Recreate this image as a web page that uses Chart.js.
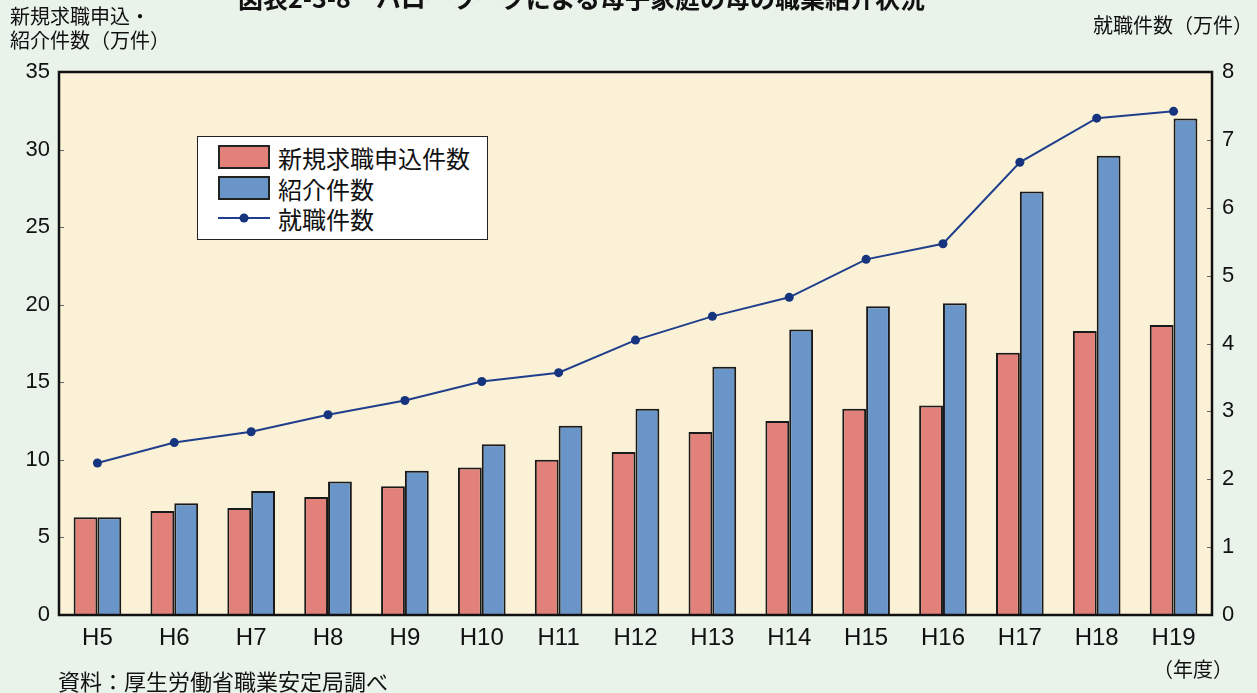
<!DOCTYPE html>
<html lang="ja">
<head>
<meta charset="UTF-8">
<title>ハローワークによる母子家庭の母の職業紹介状況</title>
<script src="https://cdn.jsdelivr.net/npm/chart.js"></script>
<style>
  html, body { margin: 0; padding: 0; background: #e9f3ea; }
  body { width: 1257px; height: 693px; position: relative; overflow: hidden;
         font-family: "Noto Sans CJK JP", sans-serif; color: #111; }
  #wrap { position: absolute; left: 0; top: 0; width: 1257px; height: 693px; }
  .txt { position: absolute; white-space: nowrap; }
  #legend { position: absolute; left: 197px; top: 136px; width: 289px; height: 102px;
            background: #fff; border: 1.5px solid #222; font-size: 24px; }
  .row { position: absolute; left: 20px; height: 30px; display: flex; align-items: center; }
  .sw { width: 48px; height: 20px; border: 2px solid #222; margin-right: 8px; }
</style>
</head>
<body>
<div id="wrap"><canvas id="chart" width="1257" height="693"></canvas></div>

<div class="txt" style="left:238px; top:-21px; font-size:25px; font-weight:bold;">図表2-3-8　ハローワークによる母子家庭の母の職業紹介状況</div>
<div class="txt" style="left:10px; top:4px; font-size:20px; line-height:24px;">新規求職申込・<br>紹介件数（万件）</div>
<div class="txt" style="left:1093px; top:10px; font-size:20px;">就職件数（万件）</div>
<div class="txt" style="left:1153px; top:654px; font-size:20px;">（年度）</div>
<div class="txt" style="left:58px; top:664px; font-size:22px;">資料：厚生労働省職業安定局調べ</div>

<div id="legend">
  <div class="row" style="top:5px;"><div class="sw" style="background:#e2807a"></div>新規求職申込件数</div>
  <div class="row" style="top:36px;"><div class="sw" style="background:#6a95c8"></div>紹介件数</div>
  <div class="row" style="top:66px;">
    <svg width="52" height="20" style="margin-right:8px"><line x1="0" y1="10" x2="52" y2="10" stroke="#1f3f8c" stroke-width="2"/><circle cx="26" cy="10" r="4.5" fill="#17357e"/></svg>就職件数</div>
</div>

<script>
// 年度
const years = ['H5', 'H6', 'H7', 'H8', 'H9', 'H10', 'H11', 'H12', 'H13', 'H14', 'H15', 'H16', 'H17', 'H18', 'H19'];
// 新規求職申込件数（万件）
const applications = [6.3, 6.7, 6.9, 7.6, 8.3, 9.5, 10.0, 10.5, 11.8, 12.5, 13.3, 13.5, 16.9, 18.3, 18.7];
// 紹介件数（万件）
const referrals = [6.3, 7.2, 8.0, 8.6, 9.3, 11.0, 12.2, 13.3, 16.0, 18.4, 19.9, 20.1, 27.3, 29.6, 32.0];
// 就職件数（万件）
const placements = [2.24, 2.54, 2.70, 2.95, 3.16, 3.44, 3.57, 4.05, 4.40, 4.68, 5.24, 5.47, 6.67, 7.32, 7.42];

const tickFont = { family: '"Liberation Sans", Arial, sans-serif', size: 22 };
const xFont = { family: '"Liberation Sans", Arial, sans-serif', size: 24 };

// plot area background, frame and the short inner ticks
const frame = {
  id: 'frame',
  beforeDraw(chart) {
    const a = chart.chartArea, c = chart.ctx;
    c.save();
    c.fillStyle = '#fbf1d6';
    c.fillRect(a.left, a.top, a.right - a.left, a.bottom - a.top);
    c.restore();
  },
  afterDraw(chart) {
    const a = chart.chartArea, c = chart.ctx;
    c.save();
    c.strokeStyle = '#666';
    c.lineWidth = 1;
    const yl = chart.scales.y, yr = chart.scales.y2;
    yl.ticks.forEach(t => {
      const py = Math.round(yl.getPixelForValue(t.value)) + 0.5;
      c.beginPath(); c.moveTo(a.left, py); c.lineTo(a.left + 5, py); c.stroke();
    });
    yr.ticks.forEach(t => {
      const py = Math.round(yr.getPixelForValue(t.value)) + 0.5;
      c.beginPath(); c.moveTo(a.right - 5, py); c.lineTo(a.right, py); c.stroke();
    });
    c.strokeStyle = '#111';
    c.lineWidth = 2.5;
    c.strokeRect(a.left, a.top, a.right - a.left, a.bottom - a.top);
    c.restore();
  }
};

new Chart(document.getElementById('chart'), {
  data: {
    labels: years,
    datasets: [
      { type: 'line', label: '就職件数', data: placements, yAxisID: 'y2',
        borderColor: '#1f3f8c', borderWidth: 2, backgroundColor: '#17357e',
        pointRadius: 4.5, pointBackgroundColor: '#17357e', pointBorderWidth: 0, order: 0 },
      { type: 'bar', label: '新規求職申込件数', data: applications, yAxisID: 'y',
        backgroundColor: '#e2807a', borderColor: '#1a1a1a', borderWidth: 2,
        categoryPercentage: 0.62, barPercentage: 1.0, order: 1 },
      { type: 'bar', label: '紹介件数', data: referrals, yAxisID: 'y',
        backgroundColor: '#6a95c8', borderColor: '#1a1a1a', borderWidth: 2,
        categoryPercentage: 0.62, barPercentage: 1.0, order: 1 }
    ]
  },
  options: {
    responsive: false,
    animation: false,
    layout: { padding: { top: 72, left: 0, right: 0, bottom: 0 } },
    plugins: { legend: { display: false }, tooltip: { enabled: false } },
    scales: {
      x: {
        grid: { display: false, drawTicks: false },
        border: { display: false },
        ticks: { color: '#111', font: xFont, padding: 9 },
        afterFit(s) { s.height = 78; }
      },
      y: {
        position: 'left', min: 0, max: 35,
        grid: { display: false, drawTicks: false },
        border: { display: false },
        ticks: { stepSize: 5, color: '#111', font: tickFont, padding: 9 },
        afterFit(s) { s.width = 59; }
      },
      y2: {
        position: 'right', min: 0, max: 8,
        grid: { display: false, drawTicks: false },
        border: { display: false },
        ticks: { stepSize: 1, color: '#111', font: tickFont, padding: 10 },
        afterFit(s) { s.width = 45; }
      }
    }
  },
  plugins: [frame]
});
</script>
</body>
</html>
